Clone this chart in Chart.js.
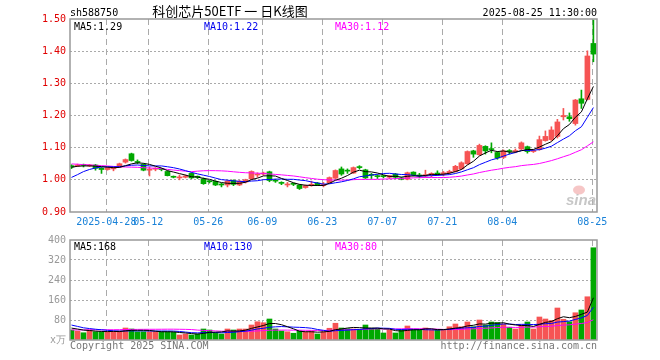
<!DOCTYPE html>
<html>
<head>
<meta charset="utf-8">
<script src="https://cdn.jsdelivr.net/npm/chart.js@4.4.1/dist/chart.umd.min.js"></script>
<style>
body { margin: 0; background: #fff; }
#wrap { position: relative; width: 660px; height: 360px; }
canvas { position: absolute; left: 0; }
#kline { top: 0; }
#vol { top: 230px; }
</style>
</head>
<body>
<div id="wrap">
  <canvas id="kline" width="660" height="230"></canvas>
  <canvas id="vol" width="660" height="130"></canvas>
</div>
<script>
// daily candles, 2025-04-18 .. 2025-08-25
const opens = [1.044,1.043,1.047,1.043,1.046,1.036,1.032,1.034,1.040,1.055,
  1.081,1.056,1.048,1.030,1.033,1.034,1.026,1.010,1.006,1.008,
  1.020,1.010,1.003,0.996,0.995,0.986,0.984,0.998,0.984,0.993,
  1.003,1.015,1.018,1.025,0.999,0.992,0.984,0.988,0.984,0.976,
  0.982,0.990,0.982,0.991,1.005,1.034,1.030,1.021,1.040,1.031,
  1.016,1.012,1.012,1.008,1.018,1.006,1.002,1.024,1.014,1.012,
  1.014,1.020,1.018,1.022,1.026,1.034,1.050,1.090,1.078,1.104,
  1.096,1.085,1.070,1.090,1.088,1.096,1.103,1.088,1.094,1.122,
  1.125,1.135,1.196,1.196,1.175,1.252,1.250,1.424];
const highs = [1.047,1.049,1.049,1.048,1.048,1.038,1.040,1.040,1.052,1.065,
  1.083,1.062,1.050,1.040,1.038,1.036,1.028,1.012,1.015,1.015,
  1.022,1.012,1.006,0.998,0.997,0.989,0.998,1.000,0.998,1.002,
  1.028,1.022,1.024,1.027,1.002,0.994,0.992,0.990,0.986,0.984,
  0.996,0.992,0.992,1.009,1.031,1.040,1.034,1.040,1.044,1.033,
  1.020,1.016,1.014,1.014,1.020,1.008,1.024,1.025,1.020,1.030,
  1.022,1.028,1.026,1.030,1.045,1.056,1.090,1.092,1.111,1.106,
  1.115,1.088,1.093,1.094,1.096,1.118,1.105,1.093,1.136,1.152,
  1.165,1.188,1.222,1.208,1.250,1.279,1.401,1.497];
const lows = [1.035,1.041,1.040,1.041,1.030,1.020,1.030,1.028,1.038,1.052,
  1.058,1.050,1.028,1.012,1.028,1.028,1.012,1.006,1.000,1.006,
  1.004,1.004,0.986,0.990,0.982,0.978,0.978,0.982,0.982,0.990,
  1.000,1.008,1.014,0.994,0.992,0.985,0.978,0.982,0.970,0.974,
  0.980,0.982,0.978,0.990,1.004,1.014,1.020,1.020,1.034,1.004,
  1.004,1.004,1.006,1.004,1.004,1.000,1.000,1.012,1.006,1.008,
  1.010,1.014,1.012,1.018,1.024,1.032,1.048,1.070,1.076,1.080,
  1.084,1.064,1.066,1.080,1.084,1.094,1.083,1.085,1.092,1.120,
  1.122,1.130,1.186,1.182,1.170,1.222,1.248,1.367];
const closes = [1.040,1.046,1.045,1.046,1.036,1.032,1.038,1.037,1.050,1.063,
  1.060,1.054,1.030,1.033,1.035,1.032,1.013,1.008,1.009,1.012,
  1.006,1.008,0.988,0.994,0.984,0.984,0.996,0.986,0.996,1.000,
  1.026,1.018,1.021,0.998,0.996,0.989,0.986,0.986,0.973,0.982,
  0.986,0.985,0.986,1.007,1.029,1.018,1.027,1.038,1.038,1.006,
  1.014,1.010,1.010,1.013,1.008,1.002,1.022,1.016,1.012,1.016,
  1.020,1.018,1.022,1.026,1.042,1.053,1.088,1.080,1.107,1.090,
  1.094,1.068,1.090,1.088,1.091,1.115,1.088,1.090,1.125,1.135,
  1.155,1.180,1.200,1.190,1.248,1.238,1.385,1.391];
// volume, 万手
const volumes = [40,36,29,40,33,33,33,33,36,48,
  44,33,33,33,33,33,33,31,20,24,
  20,24,44,40,29,24,44,40,44,44,
  60,73,69,84,44,36,33,27,36,33,
  36,24,33,47,67,48,45,44,43,60,
  47,44,28,40,28,40,56,40,40,48,
  40,40,40,53,64,53,72,53,80,60,
  72,70,64,51,44,60,72,44,92,84,
  78,128,83,73,109,120,173,369];
// sessions before the visible window (only feed the moving averages)
const prevCloses = [1.070,1.080,1.075,1.070,1.065,1.070,1.080,1.085,1.080,1.075,
  1.070,1.065,1.060,1.065,1.070,1.075,1.070,1.065,1.060,1.055,
  0.960,0.950,0.980,0.990,1.000,1.030,1.040,1.045,1.040];
const prevVolumes = [28,30,26,32,35,30,28,27,30,33,29,26,28,31,30,27,29,32,35,40,
  90,85,70,60,55,55,50,48,45];

const tickIdx = [6,13,23,32,42,52,62,72,87];
const tickLabels = ['2025-04-28','05-12','05-26','06-09','06-23','07-07','07-21','08-04','08-25'];
const priceTicks = [0.9,1.0,1.1,1.2,1.3,1.4,1.5];
const volTicks = [0,80,160,240,320,400];

const RED = '#f65454', GREEN = '#00a800';
const MONO = '"DejaVu Sans Mono", monospace';
const N = closes.length, PRE = prevCloses.length;
const allC = prevCloses.concat(closes);
const allV = prevVolumes.concat(volumes);

function ma(all, n) {
  const out = [];
  for (let i = 0; i < N; i++) {
    let s = 0;
    for (let k = 0; k < n; k++) s += all[PRE + i - k];
    out.push({ x: i, y: s / n });
  }
  return out;
}
const colors = closes.map((c, i) => c >= opens[i] ? RED : GREEN);
const pMA5 = ma(allC, 5), pMA10 = ma(allC, 10), pMA30 = ma(allC, 30);
const vMA5 = ma(allV, 5), vMA10 = ma(allV, 10), vMA30 = ma(allV, 30);

const xScale = (h) => ({
  type: 'linear', min: -0.25, max: 87.6, offset: false,
  afterBuildTicks: s => { s.ticks = tickIdx.map(v => ({ value: v - 0.2 })); },
  ticks: { display: false },
  grid: { color: '#aaa', lineWidth: 1, drawTicks: false, offset: false },
  border: { display: false, dash: [6, 4] },
  afterFit: s => { s.height = h; }
});

function lineSet(data, color) {
  return { type: 'line', data, borderColor: color, borderWidth: 1, pointRadius: 0, fill: false, order: 0 };
}

function frame(chart) {
  const a = chart.chartArea, ctx = chart.ctx;
  ctx.save();
  ctx.strokeStyle = '#999';
  ctx.lineWidth = 1.5;
  ctx.strokeRect(a.left, a.top, a.right - a.left, a.bottom - a.top);
  ctx.restore();
}

function txt(ctx, s, x, y, color, align, font) {
  ctx.fillStyle = color;
  ctx.textAlign = align || 'left';
  ctx.font = font || ('10px ' + MONO);
  ctx.fillText(s, x, y);
}

const klinePlugin = {
  id: 'klineDeco',
  beforeDatasetsDraw(chart) {
    const ctx = chart.ctx;
    ctx.save();
    // sina watermark
    ctx.fillStyle = 'rgba(240,160,160,0.6)';
    ctx.beginPath();
    ctx.ellipse(579, 190, 6, 4.5, 0, 0, Math.PI * 2);
    ctx.fill();
    txt(ctx, 'sina', 581, 205, 'rgba(185,185,185,0.8)', 'center', 'italic bold 15px "Liberation Sans"');
    ctx.restore();
  },
  afterDraw(chart) {
    const ctx = chart.ctx, xs = chart.scales.x;
    frame(chart);
    ctx.save();
    ctx.textBaseline = 'alphabetic';
    txt(ctx, 'sh588750', 70, 16, '#000');
    txt(ctx, '科创芯片50ETF 一 日K线图', 230, 16, '#000', 'center', '13px "Noto Sans CJK SC"');
    txt(ctx, '2025-08-25 11:30:00', 597, 16, '#000', 'right');
    txt(ctx, 'MA5:' + pMA5[N - 1].y.toFixed(2), 74, 29.5, '#000');
    txt(ctx, 'MA10:' + pMA10[N - 1].y.toFixed(2), 204, 29.5, '#0000ee');
    txt(ctx, 'MA30:' + pMA30[N - 1].y.toFixed(2), 335, 29.5, '#ff00ff');
    tickIdx.forEach((v, i) => {
      txt(ctx, tickLabels[i], xs.getPixelForValue(v - 0.2), 224.5, '#1a82d8', 'center');
    });
    ctx.restore();
  }
};

const volPlugin = {
  id: 'volDeco',
  afterDraw(chart) {
    const ctx = chart.ctx;
    frame(chart);
    ctx.save();
    ctx.textBaseline = 'alphabetic';
    txt(ctx, 'MA5:' + Math.floor(vMA5[N - 1].y), 74, 19.5, '#000');
    txt(ctx, 'MA10:' + Math.floor(vMA10[N - 1].y), 204, 19.5, '#0000ee');
    txt(ctx, 'MA30:' + Math.floor(vMA30[N - 1].y), 335, 19.5, '#ff00ff');
    txt(ctx, 'Copyright 2025 SINA.COM', 70, 119, '#777');
    txt(ctx, 'http://finance.sina.com.cn', 597, 119, '#777', 'right');
    ctx.restore();
  }
};

new Chart(document.getElementById('kline'), {
  data: {
    datasets: [
      lineSet(pMA5, '#000'),
      lineSet(pMA10, '#0000ff'),
      lineSet(pMA30, '#ff00ff'),
      {
        type: 'bar', order: 1, grouped: false, barThickness: 1,
        data: lows.map((l, i) => ({ x: i, y: [l, highs[i]] })),
        backgroundColor: colors
      },
      {
        type: 'bar', order: 1, grouped: false, barThickness: 5, minBarLength: 1,
        data: opens.map((o, i) => ({ x: i, y: [o, closes[i]] })),
        backgroundColor: colors
      }
    ]
  },
  options: {
    responsive: false, animation: false, events: [],
    layout: { padding: { left: 0, right: 63, top: 19, bottom: 0 } },
    plugins: { legend: { display: false }, tooltip: { enabled: false } },
    scales: {
      x: xScale(18),
      y: {
        min: 0.9, max: 1.5,
        afterBuildTicks: s => { s.ticks = priceTicks.map(v => ({ value: v })); },
        ticks: { color: '#e00000', padding: 4, font: { family: MONO, size: 10 }, callback: v => v.toFixed(2) },
        grid: { drawTicks: false, color: c => (c.tick && c.tick.value > 0.95 && c.tick.value < 1.45) ? '#aaa' : 'rgba(0,0,0,0)' },
        border: { display: false, dash: [2, 2] },
        afterFit: s => { s.width = 70; }
      }
    }
  },
  plugins: [klinePlugin]
});

new Chart(document.getElementById('vol'), {
  data: {
    datasets: [
      lineSet(vMA5, '#000'),
      lineSet(vMA10, '#0000ff'),
      lineSet(vMA30, '#ff00ff'),
      {
        type: 'bar', order: 1, grouped: false, barThickness: 5,
        data: volumes.map((v, i) => ({ x: i, y: v })),
        backgroundColor: colors
      }
    ]
  },
  options: {
    responsive: false, animation: false, events: [],
    layout: { padding: { left: 0, right: 63, top: 10, bottom: 20 } },
    plugins: { legend: { display: false }, tooltip: { enabled: false } },
    scales: {
      x: xScale(0),
      y: {
        min: 0, max: 400,
        afterBuildTicks: s => { s.ticks = volTicks.map(v => ({ value: v })); },
        ticks: { color: '#999', padding: 4, font: { family: MONO, size: 10 }, callback: v => v === 0 ? 'x万' : String(v) },
        grid: { drawTicks: false, color: c => (c.tick && c.tick.value > 0 && c.tick.value < 400) ? '#aaa' : 'rgba(0,0,0,0)' },
        border: { display: false, dash: [2, 2] },
        afterFit: s => { s.width = 70; }
      }
    }
  },
  plugins: [volPlugin]
});
</script>
</body>
</html>
